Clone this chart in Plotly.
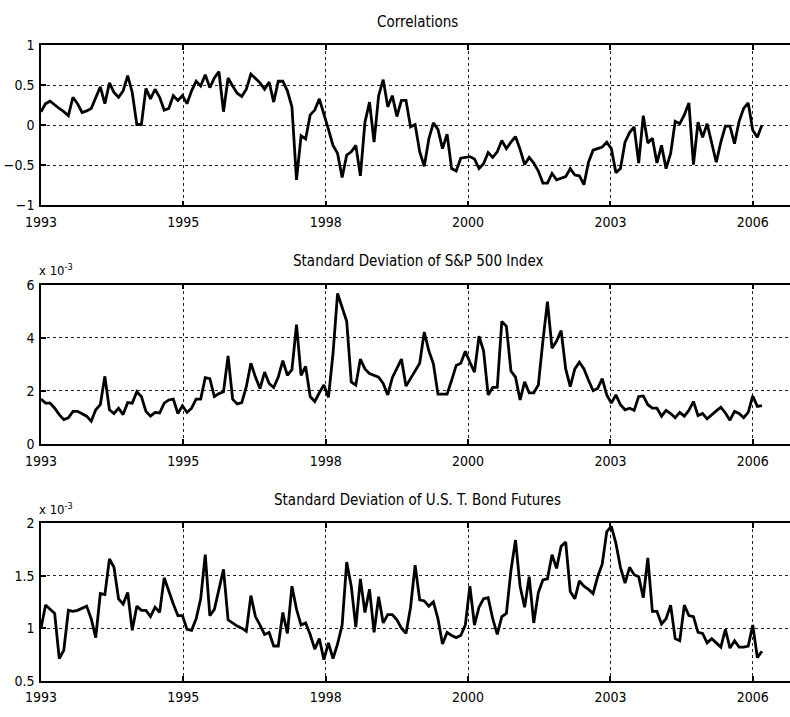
import pandas as pd
import plotly.graph_objects as go
from plotly.subplots import make_subplots

# ---------------- data (monthly, Jan 1993 - Mar 2006) ----------------
correlations = [
    0.17, 0.27, 0.30, 0.25, 0.21, 0.17, 0.12, 0.35, 0.27, 0.16,
    0.18, 0.21, 0.35, 0.48, 0.27, 0.53, 0.41, 0.35, 0.43, 0.62,
    0.41, 0.01, 0.01, 0.46, 0.33, 0.45, 0.35, 0.19, 0.21, 0.37,
    0.31, 0.37, 0.27, 0.43, 0.55, 0.49, 0.63, 0.47, 0.59, 0.67,
    0.17, 0.59, 0.49, 0.40, 0.36, 0.45, 0.64, 0.59, 0.53, 0.45,
    0.54, 0.29, 0.55,
    0.55, 0.43, 0.23, -0.68, -0.13, -0.17, 0.13, 0.19, 0.33, 0.15,
    -0.05, -0.25, -0.35, -0.65, -0.37, -0.33, -0.25, -0.63, 0.04, 0.29,
    -0.21, 0.37, 0.57, 0.23, 0.37, 0.11, 0.31, 0.31, -0.02, 0.01,
    -0.33, -0.51, -0.17, 0.03, -0.05, -0.29, -0.11, -0.54, -0.57, -0.41,
    -0.40, -0.39, -0.42, -0.54, -0.48, -0.34, -0.40, -0.33, -0.19, -0.29,
    -0.21, -0.14,
    -0.30, -0.49, -0.40, -0.47, -0.57, -0.72, -0.72, -0.60, -0.68, -0.66,
    -0.64, -0.54, -0.62, -0.63, -0.74, -0.46, -0.31, -0.29, -0.27, -0.21,
    -0.29, -0.59, -0.54, -0.21, -0.09, -0.02, -0.47, 0.12, -0.22, -0.16,
    -0.47, -0.25, -0.54, -0.35, 0.05, 0.02, 0.13, 0.28, -0.49, 0.04,
    -0.15, 0.02, -0.22, -0.46, -0.21, -0.01, -0.01, -0.23, 0.05, 0.21,
    0.28, -0.06, -0.15, 0.00,
]

# standard deviation of S&P 500 index, in units of 1e-3
sp500_std = [
    1.69, 1.54, 1.54, 1.35, 1.11, 0.92, 0.99, 1.23, 1.23, 1.15,
    1.05, 0.86, 1.29, 1.48, 2.55, 1.29, 1.15, 1.35, 1.11, 1.56,
    1.54, 1.97, 1.79, 1.23, 1.05, 1.19, 1.17, 1.54, 1.66, 1.69,
    1.15, 1.44, 1.19, 1.35, 1.69, 1.69, 2.50, 2.46, 1.79, 1.90,
    1.97, 3.32, 1.69, 1.51, 1.56, 2.16, 3.04, 2.52, 2.09, 2.71,
    2.28, 2.13, 2.52,
    3.14, 2.59, 2.80, 4.50, 2.59, 2.92, 1.79, 1.60, 1.93, 2.22,
    1.76, 3.40, 5.67, 5.10, 4.62, 2.34, 2.22, 3.20, 2.83, 2.65,
    2.59, 2.52, 2.28, 1.85, 2.50, 2.83, 3.20, 2.18, 2.46, 2.75,
    3.04, 4.22, 3.51, 3.02, 1.88, 1.88, 1.88, 2.40, 2.96, 3.04,
    3.49, 3.08, 2.71, 4.06, 3.51, 1.85, 2.13, 2.13, 4.62, 4.43,
    2.75, 2.52, 1.66, 2.34, 1.93, 1.93,
    2.22, 3.88, 5.36, 3.61, 3.88, 4.27, 2.83, 2.16, 2.83, 3.08,
    2.83, 2.40, 2.01, 2.09, 2.46, 1.85, 1.54, 1.85, 1.48, 1.29,
    1.35, 1.27, 1.79, 1.81, 1.48, 1.35, 1.35, 1.05, 1.27, 1.15,
    0.99, 1.19, 1.05, 1.27, 1.60, 1.07, 1.15, 0.95, 1.11, 1.25,
    1.39, 1.17, 0.90, 1.23, 1.15, 0.99, 1.19, 1.81, 1.42, 1.45,
]

# standard deviation of U.S. T. bond futures, in units of 1e-3
bond_std = [
    1.00, 1.22, 1.18, 1.14, 0.71, 0.79, 1.17, 1.16, 1.17, 1.19,
    1.21, 1.09, 0.91, 1.33, 1.32, 1.66, 1.58, 1.28, 1.23, 1.34,
    0.98, 1.21, 1.17, 1.17, 1.11, 1.20, 1.15, 1.48, 1.35, 1.23,
    1.12, 1.12, 0.99, 0.98, 1.09, 1.28, 1.70, 1.12, 1.18, 1.37,
    1.56, 1.08, 1.05, 1.02, 1.00, 0.97, 1.31, 1.11, 1.03, 0.94,
    0.96, 0.83, 0.83,
    1.15, 0.95, 1.40, 1.18, 1.03, 1.05, 0.94, 0.80, 0.90, 0.70,
    0.86, 0.71, 0.85, 1.03, 1.63, 1.40, 1.01, 1.47, 1.15, 1.37,
    0.96, 1.30, 1.05, 1.13, 1.13, 1.08, 1.00, 0.95, 1.20, 1.60,
    1.27, 1.26, 1.21, 1.25, 1.09, 0.85, 0.96, 0.93, 0.91, 0.93,
    1.03, 1.40, 1.03, 1.20, 1.28, 1.29, 1.09, 0.94, 1.11, 1.14,
    1.55, 1.84,
    1.40, 1.20, 1.49, 1.05, 1.34, 1.46, 1.47, 1.70, 1.57, 1.78,
    1.82, 1.35, 1.28, 1.45, 1.40, 1.37, 1.33, 1.49, 1.61, 1.92,
    1.97, 1.81, 1.58, 1.43, 1.58, 1.51, 1.49, 1.29, 1.67, 1.16,
    1.16, 1.04, 1.09, 1.22, 0.90, 0.88, 1.22, 1.12, 1.11, 0.96,
    0.95, 0.86, 0.90, 0.86, 0.82, 0.99, 0.81, 0.88, 0.82, 0.82,
    0.83, 1.03, 0.72, 0.78,
]

dates = pd.date_range("1993-01-01", periods=len(correlations), freq="MS")
x_years = [d.year + (d.month - 1) / 12 for d in dates]

tick_years = [1993.0, 1995.6, 1998.2, 2000.8, 2003.4, 2006.0]
tick_labels = ["1993", "1995", "1998", "2000", "2003", "2006"]

titles = ["Correlations",
          "Standard Deviation of S&P 500 Index",
          "Standard Deviation of U.S. T. Bond Futures"]
series = [correlations, sp500_std, bond_std]
y_ranges = [[-1, 1], [0, 6], [0.5, 2]]
y_ticks = [[-1, -0.5, 0, 0.5, 1], [0, 2, 4, 6], [0.5, 1, 1.5, 2]]
y_ticktext = [["\u22121", "\u22120.5", "0", "0.5", "1"], ["0", "2", "4", "6"], ["0.5", "1", "1.5", "2"]]

# ---------------- figure ----------------
W, H = 790, 717
FONT = "DejaVu Sans Condensed, Liberation Sans Narrow, Liberation Sans, Arial, sans-serif"

# plot-area pixel extents (top, bottom)
panels_px = [(38, 202), (283, 446), (527, 688)]
domains = [[(H - b) / H, (H - t) / H] for t, b in panels_px]

fig = make_subplots(rows=3, cols=1)

for i, vals in enumerate(series):
    n = len(vals)
    fig.add_trace(go.Scatter(x=x_years[:n], y=vals, mode="lines",
                             line=dict(color="black", width=2.8),
                             showlegend=False, hoverinfo="skip"),
                  row=i + 1, col=1)

axis_common = dict(showline=True, linecolor="black", linewidth=1.5,
                   ticks="inside", ticklen=5, tickwidth=1.5, tickcolor="black",
                   showgrid=True, gridcolor="#222222", griddash="dot", gridwidth=1,
                   zeroline=False,
                   tickfont=dict(family=FONT, size=14, color="black"))

for i in range(3):
    xa = "xaxis" if i == 0 else f"xaxis{i + 1}"
    ya = "yaxis" if i == 0 else f"yaxis{i + 1}"
    fig.layout[xa].update(dict(axis_common, range=[1993, 2006.68],
                               tickmode="array", tickvals=tick_years, ticktext=tick_labels,
                               mirror="ticks", domain=[0, 1], ticklabelstandoff=3))
    fig.layout[ya].update(dict(axis_common, range=y_ranges[i],
                               tickmode="array", tickvals=y_ticks[i], ticktext=y_ticktext[i],
                               mirror=False, domain=domains[i], ticklabelstandoff=2))

# titles
title_y_px = [14, 259, 503]
for t, ypx in zip(titles, title_y_px):
    fig.add_annotation(text=t, xref="paper", yref="paper", x=0.503, y=(H - ypx) / H,
                       xanchor="center", yanchor="middle", showarrow=False,
                       font=dict(family=FONT, size=15, color="black"))

# scale factor labels
for ypx in [268, 512]:
    fig.add_annotation(text="x 10<sup>-3</sup>", xref="paper", yref="paper",
                       x=-4 / (W - 41), y=(H - ypx) / H,
                       xanchor="left", yanchor="middle", showarrow=False,
                       font=dict(family=FONT, size=13, color="black"))

fig.update_layout(width=W, height=H, margin=dict(l=41, r=0, t=0, b=0),
                  paper_bgcolor="white", plot_bgcolor="white")

fig.write_html("out.html")
